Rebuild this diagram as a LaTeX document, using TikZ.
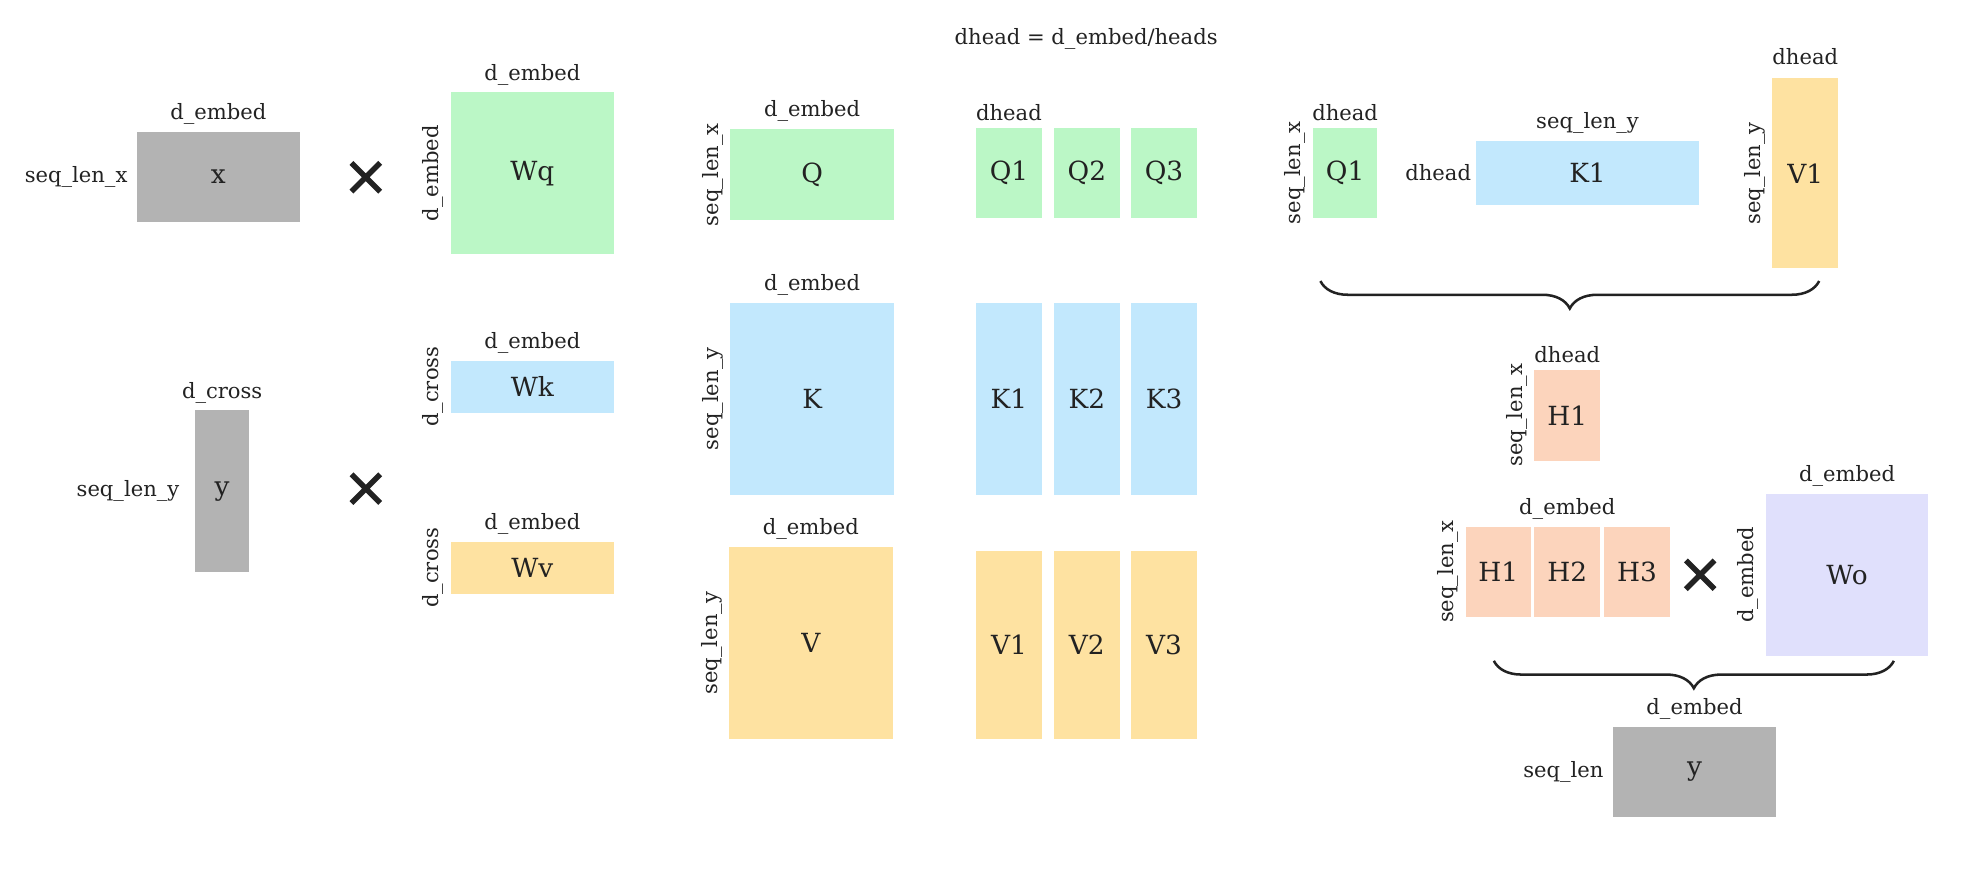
\documentclass[tikz,border=0pt]{standalone}
\usepackage{fontspec}
\setmainfont{DejaVu Serif}
\usetikzlibrary{positioning,shapes.misc,decorations.pathreplacing}

\definecolor{ink}{HTML}{222222}
\definecolor{matgray}{HTML}{B3B3B3}
\definecolor{qgreen}{HTML}{BBF7C6}
\definecolor{kblue}{HTML}{C2E8FD}
\definecolor{vyellow}{HTML}{FEE2A1}
\definecolor{hpeach}{HTML}{FCD4BC}
\definecolor{olilac}{HTML}{E0E0FC}

\tikzset{
  mat/.style={inner sep=0pt, text=ink, font=\fontsize{12.5}{14}\selectfont},
  wh/.style 2 args={minimum width=#1*0.6pt, minimum height=#2*0.6pt},
  lab/.style={inner sep=0pt, text=ink, font=\fontsize{10}{12}\selectfont},
  side/.style={lab, xshift=-3pt, rotate=90, anchor=south},
  times/.style={cross out, draw=ink, line width=2.6pt, minimum size=11pt, inner sep=0pt},
  curly/.style={decorate, decoration={brace, mirror, amplitude=13pt}, draw=ink, line width=1.2pt}
}

\begin{document}
\begin{tikzpicture}[x=0.6pt, y=-0.6pt]
    \useasboundingbox (0,0) rectangle (1568,686);

    \node[lab] (title) at (858,31) {dhead = d\_embed/heads};

    % inputs times weights
    \node[mat, fill=matgray, wh={129}{71}] (x) at (172.5,139.5) {x};
    \node[lab, above=3pt of x] {d\_embed};
    \node[lab, left=4pt of x] {seq\_len\_x};
    \node[times] (mulq) at (289,140) {};
    \node[mat, fill=qgreen, wh={129}{128}] (wq) at (420.5,137) {Wq};
    \node[lab, above=3pt of wq] {d\_embed};
    \node[side] at (wq.west) {d\_embed};

    \node[mat, fill=matgray, wh={43}{128}] (yin) at (175.5,388) {y};
    \node[lab, above=3pt of yin] {d\_cross};
    \node[lab, left=7pt of yin] {seq\_len\_y};
    \node[times] (mulkv) at (289,386) {};
    \node[mat, fill=kblue, wh={129}{41}] (wk) at (420.5,305.5) {Wk};
    \node[lab, above=3pt of wk] {d\_embed};
    \node[side] at (wk.west) {d\_cross};
    \node[mat, fill=vyellow, wh={129}{41}] (wv) at (420.5,448.5) {Wv};
    \node[lab, above=3pt of wv] {d\_embed};
    \node[side] at (wv.west) {d\_cross};

    % projections
    \node[mat, fill=qgreen, wh={129}{72}] (Q) at (641.5,138) {Q};
    \node[lab, above=3pt of Q] {d\_embed};
    \node[side] at (Q.west) {seq\_len\_x};
    \node[mat, fill=kblue, wh={129}{152}] (K) at (641.5,315) {K};
    \node[lab, above=3pt of K] {d\_embed};
    \node[side] at (K.west) {seq\_len\_y};
    \node[mat, fill=vyellow, wh={129}{152}] (V) at (640.5,508) {V};
    \node[lab, above=3pt of V] {d\_embed};
    \node[side] at (V.west) {seq\_len\_y};

    % split into heads
    \node[mat, fill=qgreen, wh={52}{71}] (q1) at (797,136.5) {Q1};
    \node[mat, fill=qgreen, wh={52}{71}] (q2) at (858.5,136.5) {Q2};
    \node[mat, fill=qgreen, wh={52}{71}] (q3) at (919.5,136.5) {Q3};
    \node[lab, above=3pt of q1] {dhead};
    \node[mat, fill=kblue, wh={52}{152}] (k1) at (797,315) {K1};
    \node[mat, fill=kblue, wh={52}{152}] (k2) at (858.5,315) {K2};
    \node[mat, fill=kblue, wh={52}{152}] (k3) at (919.5,315) {K3};
    \node[mat, fill=vyellow, wh={52}{149}] (v1) at (797,509.5) {V1};
    \node[mat, fill=vyellow, wh={52}{149}] (v2) at (858.5,509.5) {V2};
    \node[mat, fill=vyellow, wh={52}{149}] (v3) at (919.5,509.5) {V3};

    % one head
    \node[mat, fill=qgreen, wh={51}{71}] (qh) at (1062.5,136.5) {Q1};
    \node[lab, above=3pt of qh] {dhead};
    \node[side] at (qh.west) {seq\_len\_x};
    \node[mat, fill=kblue, wh={176}{51}] (kh) at (1254,136.5) {K1};
    \node[lab, above=3pt of kh] {seq\_len\_y};
    \node[lab, left=2pt of kh] {dhead};
    \node[mat, fill=vyellow, wh={52}{150}] (vh) at (1426,137) {V1};
    \node[lab, above=6pt of vh] {dhead};
    \node[side] at (vh.west) {seq\_len\_y};
    \coordinate (bra) at (1043,222);
    \coordinate (brb) at (1437,222);
    \draw[curly] (bra) -- (brb);

    \node[mat, fill=hpeach, wh={52}{72}] (h1) at (1238,328) {H1};
    \node[lab, above=3pt of h1] {dhead};
    \node[side] at (h1.west) {seq\_len\_x};

    % concat times Wo
    \node[mat, fill=hpeach, wh={51}{71}] (hh1) at (1183.5,451.5) {H1};
    \node[mat, fill=hpeach, wh={52}{71}] (hh2) at (1238,451.5) {H2};
    \node[mat, fill=hpeach, wh={52}{71}] (hh3) at (1293,451.5) {H3};
    \node[lab, above=3pt of hh2] {d\_embed};
    \node[side] at (hh1.west) {seq\_len\_x};
    \node[times] (mulo) at (1343,454) {};
    \node[mat, fill=olilac, wh={128}{128}] (wo) at (1459,454) {Wo};
    \node[lab, above=3pt of wo] {d\_embed};
    \node[side] at (wo.west) {d\_embed};
    \coordinate (brc) at (1180,522);
    \coordinate (brd) at (1496,522);
    \draw[curly] (brc) -- (brd);

    \node[mat, fill=matgray, wh={129}{71}] (yout) at (1338.5,609.5) {y};
    \node[lab, above=3pt of yout] {d\_embed};
    \node[lab, left=4pt of yout] {seq\_len};
\end{tikzpicture}
\end{document}
